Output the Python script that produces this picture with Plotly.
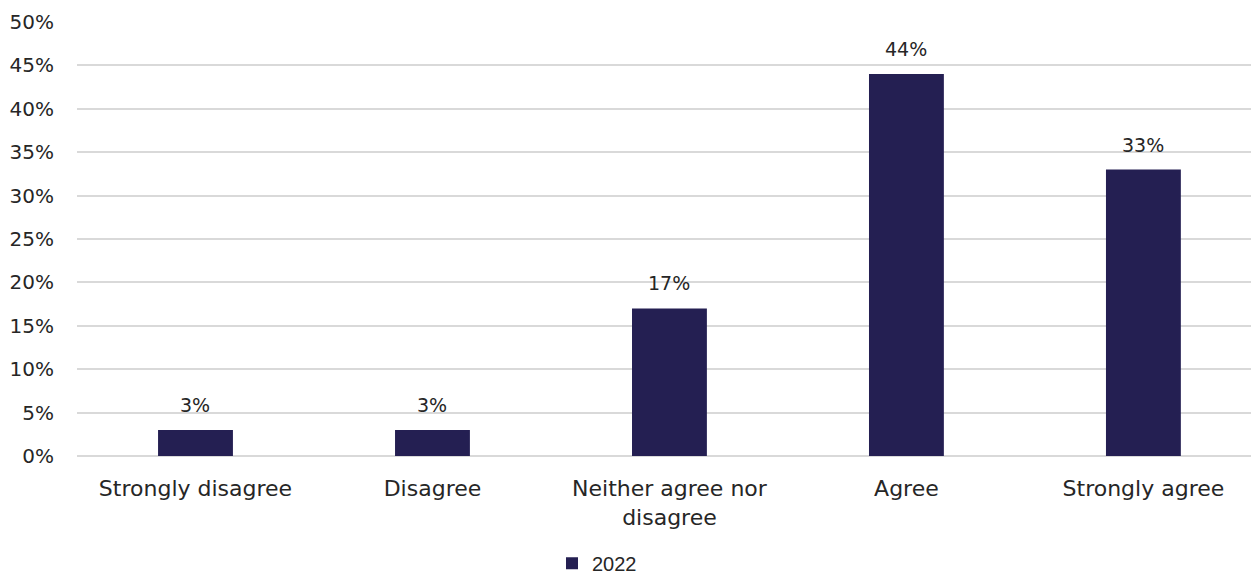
import plotly.graph_objects as go

categories = ["Strongly disagree", "Disagree", "Neither agree nor<br>disagree", "Agree", "Strongly agree"]
values_2022 = [3, 3, 17, 44, 33]
series_name = "2022"
y_ticks = list(range(0, 55, 5))
y_tick_labels = [f"{t}%" for t in y_ticks]

BAR_COLOR = "#241f52"
TEXT_COLOR = "#262626"
FONT = "DejaVu Sans"

fig = go.Figure()
fig.add_trace(go.Bar(
    x=categories,
    y=values_2022,
    name=series_name,
    marker=dict(color=BAR_COLOR, line=dict(width=0)),
    width=0.316,
    showlegend=True,
))

# value labels above bars
for cat, v in zip(categories, values_2022):
    fig.add_annotation(
        x=cat, y=v, text=f"{v}%", showarrow=False,
        yanchor="bottom", yshift=12,
        font=dict(family=FONT, size=19, color=TEXT_COLOR),
    )

fig.update_layout(
    width=1251, height=574,
    margin=dict(l=77, r=0, t=22, b=118, autoexpand=False),
    plot_bgcolor="white", paper_bgcolor="white",
    font=dict(family=FONT, size=20, color=TEXT_COLOR),
    bargap=0.684,
    legend=dict(
        orientation="h", x=0.4046, xanchor="left", y=-0.247, yanchor="middle",
        font=dict(family="Liberation Sans", size=20, color=TEXT_COLOR),
        itemwidth=30, tracegroupgap=0,
    ),
    xaxis=dict(
        range=[-0.5, 4.454], automargin=False,
        showgrid=False, showline=False, zeroline=False,
        ticks="", ticklabelstandoff=17,
        tickfont=dict(family=FONT, size=22, color=TEXT_COLOR),
    ),
    yaxis=dict(
        range=[0, 50], automargin=False,
        tickvals=y_ticks, ticktext=y_tick_labels,
        showgrid=True, gridcolor="#d9d9d9", gridwidth=1.5,
        zeroline=True, zerolinecolor="#d9d9d9", zerolinewidth=1.5,
        showline=False,
        ticks="", ticklabelstandoff=22,
        tickfont=dict(family=FONT, size=20, color=TEXT_COLOR),
    ),
)

fig.write_html("out.html")
